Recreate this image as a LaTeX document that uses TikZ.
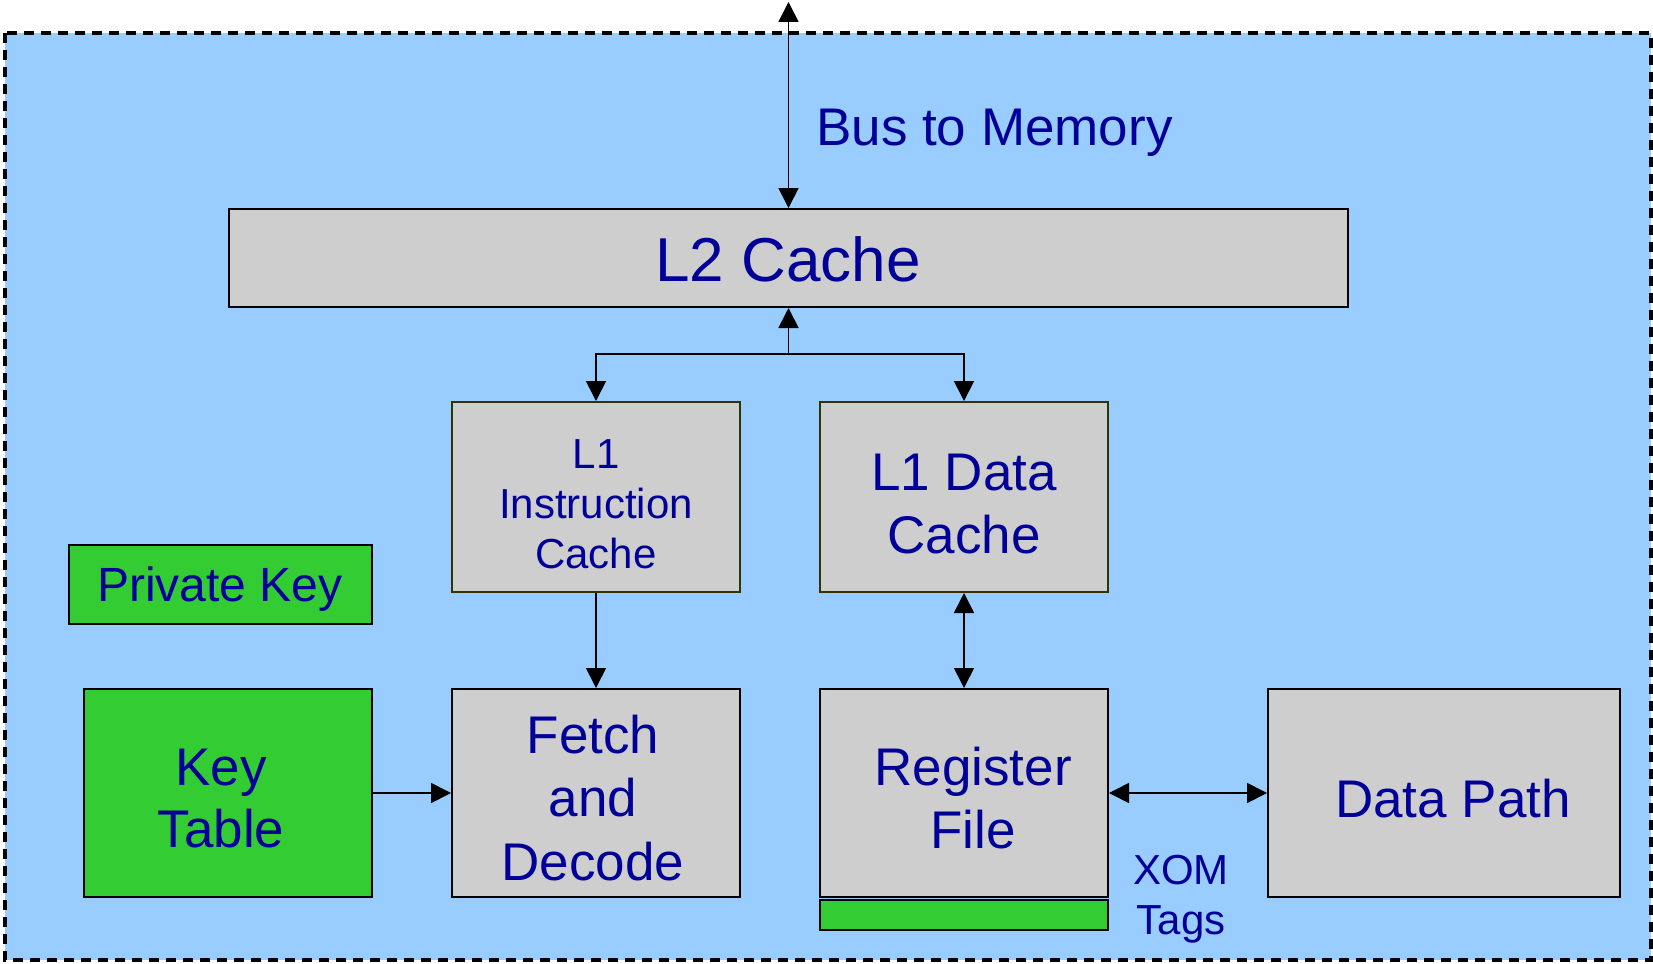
\documentclass[tikz,border=0pt]{standalone}
\usepackage{fontspec}
\setmainfont{Liberation Sans}
\usetikzlibrary{arrows.meta}
\definecolor{bgblue}{HTML}{99CCFF}
\definecolor{boxgray}{HTML}{CECECE}
\definecolor{keygreen}{HTML}{33CC33}
\definecolor{txtblue}{HTML}{000099}
\definecolor{darkolive}{HTML}{333300}
\tikzset{
  unit/.style={draw=black, line width=2pt, fill=boxgray, inner sep=0pt},
  cacheunit/.style={unit, draw=darkolive},
  keyunit/.style={unit, fill=keygreen},
  lbl/.style={text=txtblue, align=center, inner sep=0pt},
  conn/.style={line width=1.7pt, -{Triangle[length=20pt,width=20pt]}},
  biconn/.style={line width=1.7pt, {Triangle[length=20pt,width=20pt]}-{Triangle[length=20pt,width=20pt]}},
}
\begin{document}
\begin{tikzpicture}[x=1pt,y=-1pt]
\useasboundingbox (0,0) rectangle (1653,963);
% chip boundary
\draw[fill=bgblue, line width=3.4pt, dash pattern=on 10pt off 7pt] (5,33) rectangle (1651,960);

% units
\node[unit, minimum width=1119pt, minimum height=98pt] (l2) at (788.5,258) {};
\node[cacheunit, minimum width=288pt, minimum height=190pt] (l1i) at (596,497) {};
\node[cacheunit, minimum width=288pt, minimum height=190pt] (l1d) at (964,497) {};
\node[keyunit, minimum width=303pt, minimum height=79pt] (pk) at (220.5,584.5) {};
\node[keyunit, minimum width=288pt, minimum height=208pt] (kt) at (228,793) {};
\node[unit, minimum width=288pt, minimum height=208pt] (fd) at (596,793) {};
\node[unit, minimum width=288pt, minimum height=208pt] (rf) at (964,793) {};
\node[keyunit, minimum width=288pt, minimum height=30pt] (tags) at (964,915) {};
\node[unit, minimum width=352pt, minimum height=208pt] (dp) at (1444,793) {};

% unit names
\node[lbl, font=\fontsize{62}{74}\selectfont] (l2t) at (788,259) {L2 Cache};
\node[lbl, font=\fontsize{42}{50}\selectfont] (l1it) at (596,504) {L1\\Instruction\\Cache};
\node[lbl, font=\fontsize{53}{63}\selectfont] (l1dt) at (964,504) {L1 Data\\Cache};
\node[lbl, font=\fontsize{48}{58}\selectfont] (pkt) at (220,589) {Private Key};
\node[lbl, font=\fontsize{53}{62}\selectfont] (ktt) at (221,799) {Key\\Table};
\node[lbl, font=\fontsize{53}{63.5}\selectfont] (fdt) at (593,798) {Fetch\\and\\Decode};
\node[lbl, font=\fontsize{53}{63}\selectfont] (rft) at (973,798) {Register\\File};
\node[lbl, font=\fontsize{53}{63}\selectfont] (dpt) at (1453,799) {Data Path};
\node[lbl, font=\fontsize{42}{50}\selectfont] (xomt) at (1181,899) {XOM\\Tags};
\node[lbl, anchor=west, font=\fontsize{53}{63}\selectfont] (bust) at (816,133) {Bus to Memory};

% connections
\coordinate (bustop) at (788.5,2);
\coordinate (split) at (788.5,354);
\draw[biconn] (bustop) -- (l2.north);
\draw[conn] (split) -- (l2.south);
\draw[conn] (split) -| (l1i.north);
\draw[conn] (split) -| (l1d.north);
\draw[conn] (l1i.south) -- (fd.north);
\draw[biconn] (l1d.south) -- (rf.north);
\draw[conn] (kt.east) -- (fd.west);
\draw[biconn] (rf.east) -- (dp.west);
\end{tikzpicture}
\end{document}
